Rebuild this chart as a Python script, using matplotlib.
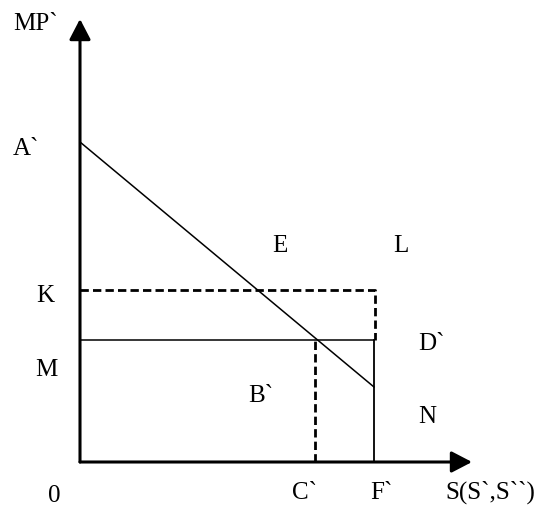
import matplotlib.pyplot as plt

# diagram values (origin at 0, units roughly pixels of the original)
a_intercept = 320      # A`
k_level = 172          # K (dashed)
m_level = 122          # M
c_pos = 235            # C`
f_pos = 294            # F`
n_level = 75           # where the MP` line ends at F`
x_max = 392
y_max = 443

labels = ["MP`", "A`", "E", "L", "K", "D`", "M", "B`", "N", "0", "C`", "F`", "S(S`,S``)"]
# left edge / baseline of each label, in picture pixels
label_px = [(13, 30), (13, 155), (272, 252), (393, 252), (36, 302), (418, 350),
            (35, 376), (248, 402), (418, 423), (48, 502), (292, 499), (370, 499),
            (445, 499)]

fig = plt.figure(figsize=(5.38, 5.06), dpi=100)
ax = fig.add_axes([0, 0, 1, 1])
ax.set_xlim(-80, 458)
ax.set_ylim(-43, 463)
ax.axis("off")

# axes with arrows
arrow = dict(arrowstyle="-|>,head_length=1.25,head_width=0.65", lw=2.2,
             color="black", shrinkA=0, shrinkB=0)
ax.annotate("", xy=(x_max, 0), xytext=(0, 0), arrowprops=arrow)
ax.annotate("", xy=(0, y_max), xytext=(0, 0), arrowprops=arrow)

# MP` line
ax.plot([0, f_pos], [a_intercept, n_level], color="black", lw=1.1)

# M level and F` vertical
ax.plot([0, f_pos], [m_level, m_level], color="black", lw=1.1)
ax.plot([f_pos, f_pos], [0, m_level], color="black", lw=1.3)

# dashed K rectangle and C` line
ax.plot([0, f_pos + 1, f_pos + 1], [k_level, k_level, m_level], color="black",
        lw=2.0, dashes=(3, 1.5))
ax.plot([c_pos, c_pos], [0, m_level], color="black", lw=2.0, dashes=(3, 1.5))

for txt, (px, py) in zip(labels, label_px):
    ax.text(px - 80, 463 - py, txt, fontsize=18, family="Liberation Serif",
            ha="left", va="baseline")

fig.savefig("out.png", dpi=100)
